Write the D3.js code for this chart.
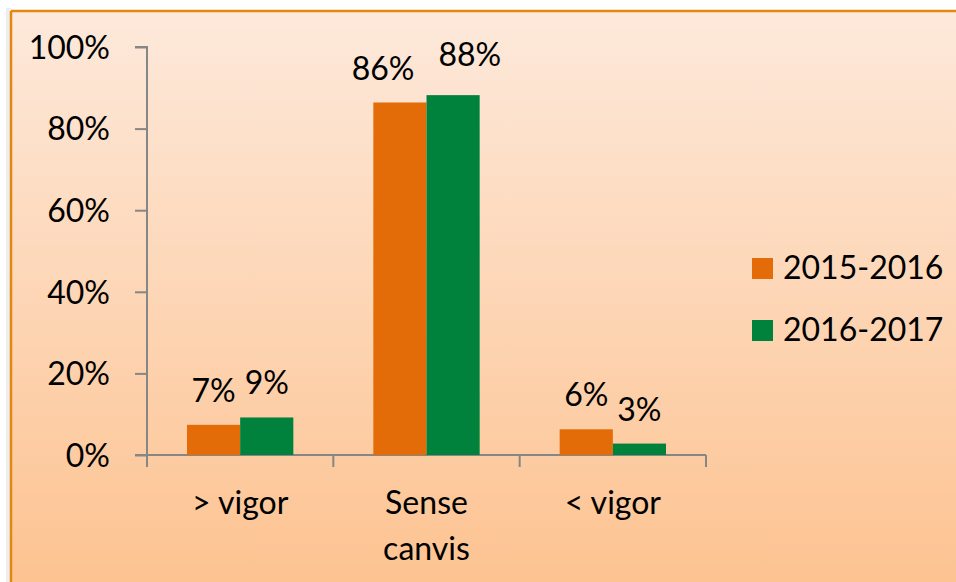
<!DOCTYPE html>
<html><head><meta charset="utf-8">
<script src="https://cdn.jsdelivr.net/npm/d3@7"></script>
<style>html,body{margin:0;padding:0;background:#fff;}svg{display:block;}</style>
</head><body>
<svg id="chart" width="956" height="582"></svg>
<script>
const categories = ["> vigor", "Sense canvis", "< vigor"];
const categoryLines = [["> vigor"], ["Sense", "canvis"], ["< vigor"]];
const seriesNames = ["2015-2016", "2016-2017"];
const series2015 = [7.4, 86.4, 6.3];
const series2016 = [9.2, 88.2, 2.8];
const yTicks = [0, 20, 40, 60, 80, 100];
const colors = ["#e36c09", "#00823d"];

(function () {
const svg = d3.select("#chart");
const font = "Lato, 'Open Sans', sans-serif";
const fs = 32;
const defs = svg.append("defs");
const grad = defs.append("linearGradient").attr("id", "bg").attr("x1", 0).attr("y1", 0).attr("x2", 0).attr("y2", 1);
grad.append("stop").attr("offset", "0%").attr("stop-color", "#fde9db");
grad.append("stop").attr("offset", "100%").attr("stop-color", "#fdc391");

svg.append("rect").attr("x", 6).attr("y", 8).attr("width", 5).attr("height", 574).attr("fill", "#eeeeee");
svg.append("rect").attr("x", 11).attr("y", 11).attr("width", 945).attr("height", 571).attr("fill", "url(#bg)");
svg.append("line").attr("x1", 11).attr("x2", 956).attr("y1", 11).attr("y2", 11).attr("stroke", "#e2870f").attr("stroke-width", 2.5);
svg.append("line").attr("x1", 11).attr("x2", 11).attr("y1", 11).attr("y2", 582).attr("stroke", "#e2870f").attr("stroke-width", 2.5);

const pLeft = 147, pRight = 706, pTop = 47, pBottom = 455;
const x = d3.scaleBand().domain(categories).range([pLeft, pRight]).paddingInner(0).paddingOuter(0);
const y = d3.scaleLinear().domain([0, 100]).range([pBottom, pTop]);
const barPad = 40;
const xs = d3.scaleBand().domain(seriesNames).range([barPad, x.bandwidth() - barPad]);

const axisColor = "#868686";
const yAxis = d3.axisLeft(y).tickValues(yTicks).tickSize(12).tickFormat(d => d + "%");
const gy = svg.append("g").attr("transform", `translate(${pLeft},0)`).call(yAxis);
gy.select(".domain").attr("stroke", axisColor).attr("stroke-width", 2).attr("d", `M-12,${pTop}H0V${pBottom}`);
gy.selectAll(".tick line").attr("stroke", axisColor).attr("stroke-width", 2);
gy.selectAll(".tick text").attr("x", -37).attr("dy", "0.35em").attr("font-family", font).attr("font-size", fs).attr("fill", "#000");

const gx = svg.append("g").attr("transform", `translate(0,${pBottom})`);
gx.append("line").attr("x1", pLeft - 12).attr("x2", pRight).attr("y1", 0).attr("y2", 0).attr("stroke", axisColor).attr("stroke-width", 2);
const bounds = [pLeft].concat(categories.map(c => x(c) + x.bandwidth()));
gx.selectAll("line.tk").data(bounds).join("line").attr("class", "tk")
  .attr("x1", d => d).attr("x2", d => d).attr("y1", 0).attr("y2", 12).attr("stroke", axisColor).attr("stroke-width", 2);

const data = [];
categories.forEach((c, i) => {
  data.push({c, i, k: 0, s: seriesNames[0], v: series2015[i], col: colors[0]});
  data.push({c, i, k: 1, s: seriesNames[1], v: series2016[i], col: colors[1]});
});
svg.append("g").selectAll("rect").data(data).join("rect")
  .attr("x", d => x(d.c) + xs(d.s)).attr("width", xs.bandwidth())
  .attr("y", d => y(d.v)).attr("height", d => y(0) - y(d.v)).attr("fill", d => d.col);

const labels = svg.append("g").selectAll("text").data(data).join("text")
  .attr("x", d => x(d.c) + xs(d.s) + xs.bandwidth() / 2)
  .attr("y", d => y(d.v) - 23)
  .attr("text-anchor", "middle").attr("font-family", font).attr("font-size", fs).attr("fill", "#000")
  .text(d => Math.round(d.v) + "%");

// resolve overlapping labels within a category: push apart horizontally
const nodes = labels.nodes();
categories.forEach((c, i) => {
  const a = nodes[i * 2], b = nodes[i * 2 + 1];
  const ba = a.getBBox(), bb = b.getBBox();
  const vOverlap = Math.abs(ba.y - bb.y) < ba.height * 0.6;
  const overlap = (ba.x + ba.width) - bb.x;
  if (vOverlap && overlap > 0) {
    const push = overlap + 24;
    d3.select(a).attr("x", +a.getAttribute("x") - push / 2).attr("y", +a.getAttribute("y") + 1);
    d3.select(b).attr("x", +b.getAttribute("x") + push / 2).attr("y", +b.getAttribute("y") - 6);
  }
});

categoryLines.forEach((lines, i) => {
  const cx = x(categories[i]) + x.bandwidth() / 2;
  const t = svg.append("text").attr("x", cx).attr("y", 514)
    .attr("text-anchor", "middle").attr("font-family", font).attr("font-size", fs).attr("fill", "#000");
  lines.forEach((l, j) => t.append("tspan").attr("x", cx).attr("dy", j === 0 ? 0 : 46).text(l));
});

const lg = svg.append("g");
seriesNames.forEach((s, i) => {
  lg.append("rect").attr("x", 752).attr("y", 258 + i * 62).attr("width", 21).attr("height", 21).attr("fill", colors[i]);
  lg.append("text").attr("x", 783).attr("y", 279 + i * 62).attr("font-family", font).attr("font-size", fs).attr("fill", "#000").text(s);
});
})();
</script>
</body></html>
